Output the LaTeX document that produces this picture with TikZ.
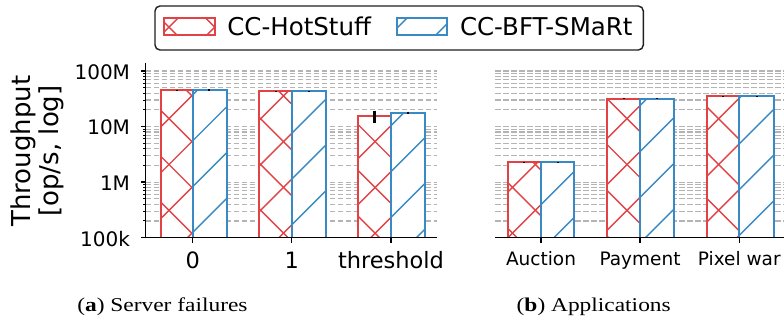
\documentclass[tikz,border=0pt]{standalone}
\usepackage{fontspec}
\setmainfont{DejaVu Sans}
\newfontfamily\capfont{Liberation Serif}[FakeStretch=1.2]

\definecolor{barred}{RGB}{226,66,68}
\definecolor{barblue}{RGB}{56,137,196}
\definecolor{gridgray}{RGB}{180,180,180}

\tikzset{
  gridline/.style={gridgray, line width=1.2pt, dash pattern=on 5.5pt off 2.5pt},
  spine/.style={black, line width=1.4pt},
  majortick/.style={black, line width=1.4pt},
  minortick/.style={black, line width=1pt},
  baredge/.style={line width=2pt, line join=miter},
  hatchline/.style={line width=1.4pt},
  errbar/.style={black, line width=2.6pt},
  smallerr/.style={black, line width=2pt},
  lbl/.style={inner sep=0pt, outer sep=0pt},
  yticklbl/.style={lbl, anchor=base east, font=\fontsize{20}{24}\selectfont},
  xticka/.style={lbl, anchor=base, font=\fontsize{22.5}{27}\selectfont},
  xtickb/.style={lbl, anchor=base, font=\fontsize{18.5}{22}\selectfont},
  legtext/.style={lbl, anchor=base west, font=\fontsize{24.5}{29}\selectfont},
  captext/.style={lbl, anchor=base west, font=\capfont\fontsize{19.5}{23}\selectfont},
}

% baseline of both panels (value 100k)
\def\axisy{237.7}

% hatch lines running down to the right: y = x + c
\newcommand\hatchdown[5]{%
  \begin{scope}
    \clip (#1,#2) rectangle (#3,#4);
    \foreach \i in {-18,...,5}{
      \pgfmathsetmacro\hcc{-50.3+45.8*\i}
      \draw[hatchline,#5] (#1,{#1+\hcc}) -- (#3,{#3+\hcc});
    }
  \end{scope}}
% hatch lines running up to the right: y = c - x
\newcommand\hatchup[5]{%
  \begin{scope}
    \clip (#1,#2) rectangle (#3,#4);
    \foreach \i in {-5,...,18}{
      \pgfmathsetmacro\hcc{287.7+45.8*\i}
      \draw[hatchline,#5] (#1,{\hcc-#1}) -- (#3,{\hcc-#3});
    }
  \end{scope}}

% cross-hatched red bar and slash-hatched blue bar: {x1}{x2}{top}
\newcommand\xbar[3]{%
  \fill[white] (#1,#3) rectangle (#2,\axisy);
  \hatchdown{#1}{#3}{#2}{\axisy}{barred}
  \hatchup{#1}{#3}{#2}{\axisy}{barred}
  \draw[baredge,barred] (#1,\axisy) -- (#1,#3) -- (#2,#3) -- (#2,\axisy);}
\newcommand\sbar[3]{%
  \fill[white] (#1,#3) rectangle (#2,\axisy);
  \hatchup{#1}{#3}{#2}{\axisy}{barblue}
  \draw[baredge,barblue] (#1,\axisy) -- (#1,#3) -- (#2,#3) -- (#2,\axisy);}

\begin{document}
\begin{tikzpicture}[x=1pt, y=-1pt]
\useasboundingbox (0,0) rectangle (784,322);
\begin{scope}
\clip (0,0) rectangle (784,322);

% ---------- grid (both panels) ----------
\foreach \xa/\xb in {145.7/436.7, 495/784}{
  \foreach \d in {0,1,2}{
    \foreach \m in {2,...,9}{
      \pgfmathsetmacro\yy{237.7-55.57*(\d+log10(\m))}
      \draw[gridline] (\xa,\yy) -- (\xb,\yy);
    }
  }
  \foreach \d in {1,2,3}{
    \pgfmathsetmacro\yy{237.7-55.57*\d}
    \draw[gridline] (\xa,\yy) -- (\xb,\yy);
  }
}

% ---------- panel (a): server failures ----------
\xbar{160.7}{192.7}{90}
\sbar{192.7}{227}{90}
\xbar{259.3}{291.7}{91}
\sbar{291.7}{325.7}{91}
\xbar{358.3}{391}{116}
\sbar{391}{425}{113.3}

\draw[smallerr] (176.7,89.5) -- (176.7,90.5);
\draw[smallerr] (209.3,89.2) -- (209.3,91.4);
\draw[smallerr] (275.5,90.5) -- (275.5,91.5);
\draw[smallerr] (308.7,90.5) -- (308.7,92);
\draw[errbar] (374.6,110.7) -- (374.6,123.3);
\draw[errbar] (408,111.7) -- (408,114.3);

% axes
\draw[spine] (145.7,62.7) -- (145.7,\axisy) -- (436.7,\axisy);
\foreach \d in {0,1,2,3}{
  \pgfmathsetmacro\yy{237.7-55.57*\d}
  \draw[majortick] (145.7,\yy) -- (140.7,\yy);
}
\foreach \d in {0,1,2}{
  \foreach \m in {2,...,9}{
    \pgfmathsetmacro\yy{237.7-55.57*(\d+log10(\m))}
    \draw[minortick] (145.7,\yy) -- (142.9,\yy);
  }
}
\foreach \x in {192.7,291.7,391}{
  \draw[majortick] (\x,\axisy) -- (\x,242.7);
}

\node[yticklbl] (y100M) at (130,79.3) {100M};
\node[yticklbl] (y10M) at (130,134.9) {10M};
\node[yticklbl] (y1M) at (130,190.4) {1M};
\node[yticklbl] (y100k) at (130,246) {100k};

\node[xticka] (xa0) at (192.7,268.3) {0};
\node[xticka] (xa1) at (291.7,268.3) {1};
\node[xticka] (xa2) at (391,268.3) {threshold};

\node[rotate=90, align=center, inner sep=0pt,
      font=\fontsize{26}{27.6}\selectfont] (ylab) at (37.5,151)
      {Throughput\\{}[op/s, log]};

% ---------- panel (b): applications ----------
\xbar{507.7}{541}{162.3}
\sbar{541}{574.3}{162.3}
\xbar{607}{640}{98.7}
\sbar{640}{674.3}{98.7}
\xbar{707.3}{739.3}{96.3}
\sbar{739.3}{774}{96.3}

\foreach \x/\t in {524.3/162.3, 557.7/162.3, 623.5/98.7, 657.2/98.7, 723.3/96.3, 756.7/96.3}{
  \draw[smallerr] (\x,\t-0.5) -- (\x,\t+0.5);
}

\draw[spine] (495,\axisy) -- (784,\axisy);
\foreach \x in {541,640,739.3}{
  \draw[majortick] (\x,\axisy) -- (\x,242.7);
}

\node[xtickb] (xb0) at (541,265) {Auction};
\node[xtickb] (xb1) at (640,265) {Payment};
\node[xtickb] (xb2) at (739.3,265) {Pixel war};

% ---------- legend ----------
\draw[rounded corners=5pt, line width=1.4pt, black!88, fill=white]
  (155,6) rectangle (643.3,50);
\fill[white] (164,18.3) rectangle (215,35);
\hatchdown{164}{18.3}{215}{35}{barred}
\hatchup{164}{18.3}{215}{35}{barred}
\draw[baredge,barred] (164,18.3) rectangle (215,35);
\node[legtext] (leghs) at (227.3,35) {CC-HotStuff};

\fill[white] (396.7,18.3) rectangle (447.3,35);
\hatchup{396.7}{18.3}{447.3}{35}{barblue}
\draw[baredge,barblue] (396.7,18.3) rectangle (447.3,35);
\node[legtext] (legbs) at (460,35) {CC-BFT-SMaRt};

% ---------- captions ----------
\node[captext] (capa) at (77.3,311) {(\textbf{a}) Server failures};
\node[captext] (capb) at (516.7,311) {(\textbf{b}) Applications};
\end{scope}
\end{tikzpicture}
\end{document}
